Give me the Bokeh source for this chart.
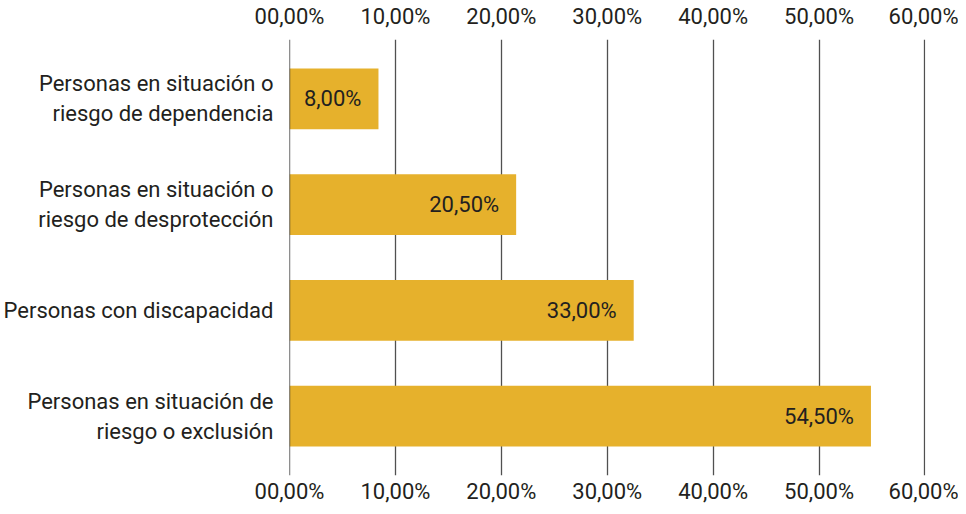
from bokeh.plotting import figure
from bokeh.models import Range1d, FixedTicker, LinearAxis, ColumnDataSource, Span
from bokeh.core.properties import value
from bokeh.embed import file_html
from bokeh.resources import INLINE

categories = [
    "Personas en situación o\nriesgo de dependencia",
    "Personas en situación o\nriesgo de desprotección",
    "Personas con discapacidad",
    "Personas en situación de\nriesgo o exclusión",
]
bar_values = [8.4, 21.4, 32.5, 54.9]
bar_labels = ["8,00%", "20,50%", "33,00%", "54,50%"]
x_ticks = [0, 10, 20, 30, 40, 50, 60]
x_tick_labels = ["00,00%", "10,00%", "20,00%", "30,00%", "40,00%", "50,00%", "60,00%"]

FONT = "Roboto"
TXT = "#231F20"
GOLD = "#E6B12C"

idx = list(range(len(categories)))
src = ColumnDataSource(dict(y=idx, v=bar_values, lab=bar_labels))

p = figure(width=958, height=506, output_backend="svg", toolbar_location=None,
           x_range=Range1d(0, 60.05), y_range=Range1d(len(categories) - 0.5 + 0.061, -0.561),
           x_axis_location=None, y_axis_location=None,
           min_border_left=289, min_border_right=33, min_border_top=38, min_border_bottom=20)
p.outline_line_color = None
p.background_fill_color = "white"
p.border_fill_color = "white"

p.hbar(y="y", right="v", left=0, height=0.575, source=src, fill_color=GOLD, line_color=None)
p.text(x="v", y="y", text="lab", source=src, x_offset=-17, text_align="right", text_baseline="middle",
       text_font=value(FONT), text_font_size="22px", text_color=TXT)

def xaxis(standoff):
    ax = LinearAxis(ticker=FixedTicker(ticks=x_ticks))
    ax.major_label_overrides = {t: l for t, l in zip(x_ticks, x_tick_labels)}
    ax.axis_line_color = None
    ax.major_tick_line_color = None
    ax.major_tick_out = 0
    ax.major_tick_in = 0
    ax.minor_tick_line_color = None
    ax.major_label_text_font = FONT
    ax.major_label_text_font_size = "22px"
    ax.major_label_text_color = TXT
    ax.major_label_standoff = standoff
    return ax

p.add_layout(xaxis(11), "above")
p.add_layout(xaxis(3), "below")

ya = LinearAxis(ticker=FixedTicker(ticks=idx))
ya.major_label_overrides = {i: c for i, c in zip(idx, categories)}
ya.axis_line_color = None
ya.major_tick_line_color = None
ya.major_tick_out = 0
ya.major_tick_in = 0
ya.minor_tick_line_color = None
ya.major_label_text_font = FONT
ya.major_label_text_font_size = "22px"
ya.major_label_text_color = TXT
ya.major_label_standoff = 16
p.add_layout(ya, "left")

p.xgrid.ticker = FixedTicker(ticks=x_ticks)
p.xgrid.grid_line_color = "#505050"
p.xgrid.grid_line_width = 1.3
p.ygrid.grid_line_color = None

p.add_layout(Span(location=x_ticks[0], dimension="height", line_color="#1e1e1e", line_width=1.3))

open("out.html", "w").write(file_html(p, INLINE))
